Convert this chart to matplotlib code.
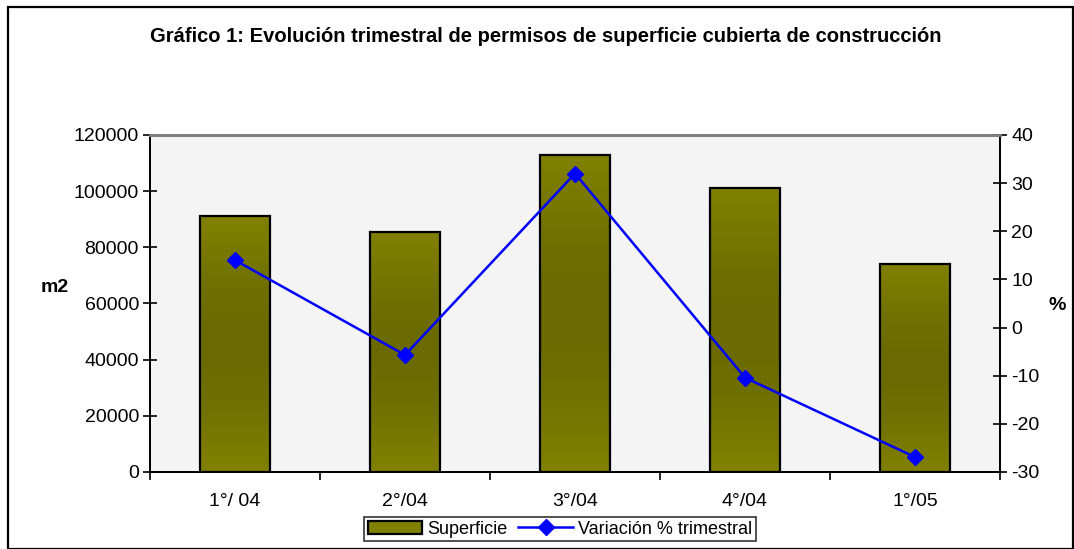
import matplotlib
matplotlib.use("Agg")
import matplotlib.pyplot as plt
import numpy as np
from matplotlib.patches import Patch, Rectangle
from matplotlib.lines import Line2D

plt.rcParams['font.family'] = ['Liberation Sans', 'DejaVu Sans']
plt.rcParams['axes.unicode_minus'] = False

categories = ["1°/ 04", "2°/04", "3°/04", "4°/04", "1°/05"]
superficie = [91000, 85500, 113000, 101000, 74000]
variacion = [14.0, -5.7, 32.0, -10.4, -26.9]
left_ticks = [0, 20000, 40000, 60000, 80000, 100000, 120000]
right_ticks = [-30, -20, -10, 0, 10, 20, 30, 40]

W, H = 1074, 549
fig = plt.figure(figsize=(W / 100, H / 100), dpi=100)
fig.patch.set_facecolor('white')

ax1 = fig.add_axes([150 / W, 1 - 472 / H, 850 / W, 337 / H])
ax2 = ax1.twinx()

ax1.set_facecolor('#F4F4F4')
x = np.arange(len(categories))
bw = 0.41

# gradient fill
t = np.linspace(0, 1, 256)
shade = 128 - 22 * np.sin(np.pi * t) ** 1.2
grad = np.zeros((256, 1, 3))
grad[:, 0, 0] = shade / 255
grad[:, 0, 1] = shade / 255
grad[:, 0, 2] = 0

bars = ax1.bar(x, superficie, width=bw, facecolor='none', edgecolor='black', linewidth=1.6, zorder=3)
for b in bars:
    x0, y0 = b.get_x(), b.get_y()
    w, h = b.get_width(), b.get_height()
    im = ax1.imshow(grad, extent=(x0, x0 + w, y0, y0 + h), origin='lower', aspect='auto', zorder=2)
    im.set_clip_path(b)

ax1.set_xlim(-0.5, len(categories) - 0.5)
ax1.set_ylim(0, 120000)
ax1.set_yticks(left_ticks)
ax1.set_yticklabels([str(v) for v in left_ticks])
ax1.set_xticks(x)
ax1.set_xticklabels(categories)
ax1.set_xticks(np.arange(-0.5, len(categories), 1.0), minor=True)
ax1.tick_params(axis='x', which='major', length=0, pad=15, labelsize=14)
ax1.tick_params(axis='x', which='minor', direction='out', length=6, width=1.2)
ax1.tick_params(axis='y', direction='inout', length=10, width=1.2, labelsize=14, pad=3)

ax2.plot(x, variacion, color='#0000FF', linewidth=1.8, marker='D', markersize=8,
         markerfacecolor='#0000FF', markeredgecolor='#0000FF', zorder=5)
ax2.set_ylim(-30, 40)
ax2.set_yticks(right_ticks)
ax2.tick_params(axis='y', direction='inout', length=10, width=1.2, labelsize=14, pad=3)

for ax in (ax1, ax2):
    ax.spines['top'].set_color('#808080')
    ax.spines['top'].set_linewidth(2)
    for s in ('left', 'right', 'bottom'):
        ax.spines[s].set_color('black')
        ax.spines[s].set_linewidth(1.4)

fig.text(546 / W, 1 - 37 / H, "Gráfico 1: Evolución trimestral de permisos de superficie cubierta de construcción",
         ha='center', va='center', fontsize=14.5, fontweight='bold')
fig.text(55 / W, 1 - 288 / H, "m2", ha='center', va='center', fontsize=14, fontweight='bold')
fig.text(1057 / W, 1 - 305 / H, "%", ha='center', va='center', fontsize=14, fontweight='bold')

handles = [Patch(facecolor='#808000', edgecolor='black', linewidth=1.6),
           Line2D([0], [0], color='#0000FF', linewidth=1.8, marker='D', markersize=8)]
leg = fig.legend(handles, ["Superficie", "Variación % trimestral"], loc='center',
                 bbox_to_anchor=(560 / W, 1 - 529 / H), ncol=2, fontsize=13,
                 frameon=True, fancybox=False, edgecolor='black', handlelength=3,
                 handletextpad=0.3, columnspacing=0.6, borderpad=0.2)
leg.get_frame().set_linewidth(1.2)

fig.patches.append(Rectangle((8 / W, 0), (1073 - 8) / W, 1 - 7 / H, transform=fig.transFigure,
                             fill=False, edgecolor='black', linewidth=1.6))

fig.savefig("out.png", dpi=100)
